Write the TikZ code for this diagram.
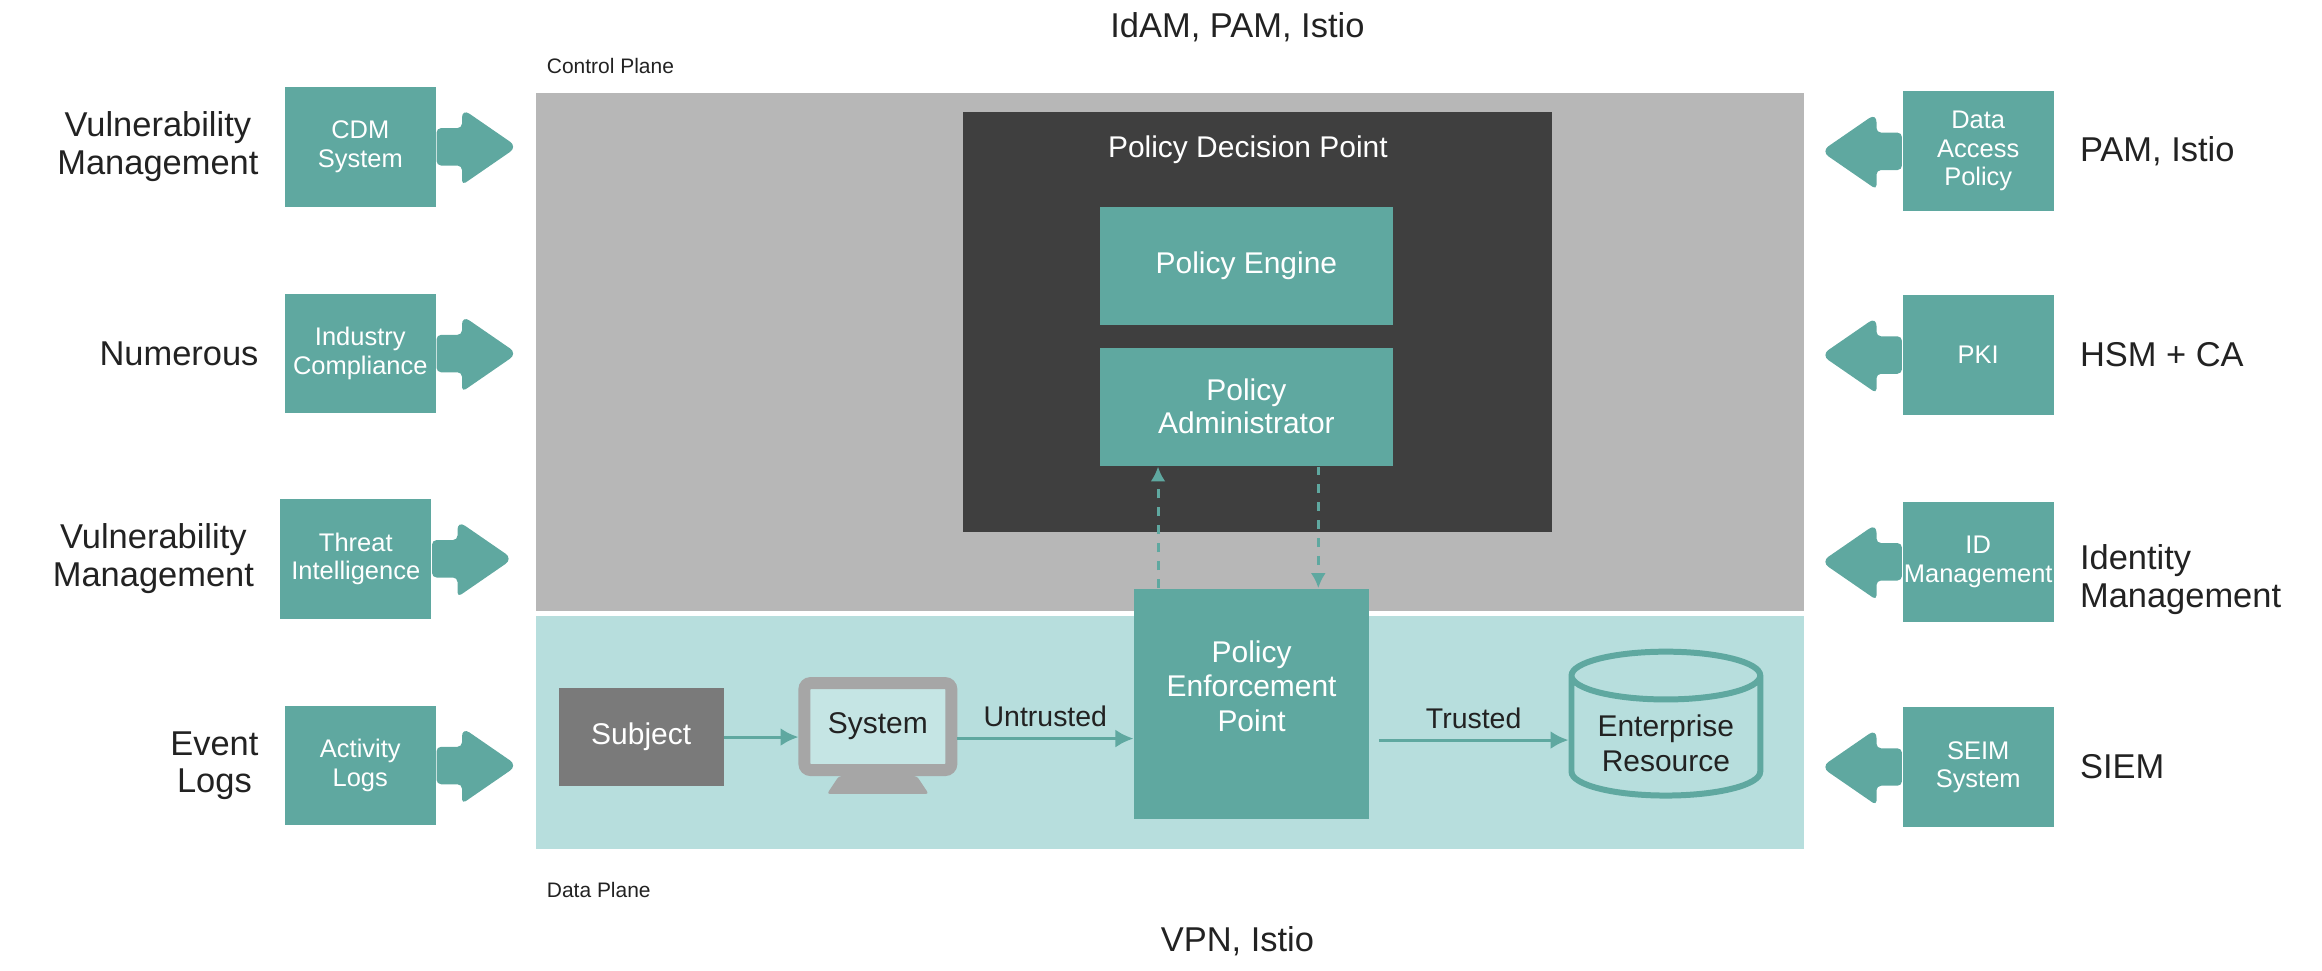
\documentclass[tikz,border=0pt]{standalone}
\usepackage{fontspec}
\setmainfont{Liberation Sans}
\usetikzlibrary{shapes.geometric,positioning}
\definecolor{zteal}{HTML}{5FA8A0}
\definecolor{zlight}{HTML}{B7DEDD}
\definecolor{zgray}{HTML}{B7B7B7}
\definecolor{zdark}{HTML}{3F3F3F}
\definecolor{ztext}{HTML}{222222}
\tikzset{
  tbox/.style={fill=zteal, text=white, align=center, inner sep=0pt, font=\fontsize{8.5}{9.5}\selectfont},
  side/.style={text=ztext, font=\fontsize{11.5}{12.5}\selectfont},
  flow/.style={zteal, line width=1pt, -{Latex[length=6pt,width=6pt]}},
}
\usetikzlibrary{arrows.meta}
% fat arrow from a side box: start point, direction (+1 right, -1 left)
\newcommand{\fatarrow}[2]{%
  \fill[zteal, rounded corners=1.5pt] (#1) ++(0,12.5) -- ++(#2*17,0) -- ++(0,13)
    [rounded corners=3pt] -- ++(#2*37,-25.5) -- ++(-#2*37,-25.5)
    [rounded corners=1.5pt] -- ++(0,13) -- ++(-#2*17,0) -- cycle;}
\begin{document}
\begin{tikzpicture}[x=0.5pt, y=-0.5pt]
\useasboundingbox (0,0) rectangle (1550,648);

% planes
\fill[zgray] (358,62) rectangle (1204,408);
\fill[zlight] (358,411) rectangle (1204,567);
\node[anchor=west, font=\fontsize{7}{8}\selectfont, text=ztext] (cp) at (358,44) {Control Plane};
\node[anchor=west, font=\fontsize{7}{8}\selectfont, text=ztext] (dp) at (358,594) {Data Plane};
\node[side] (top) at (826,18) {IdAM, PAM, Istio};
\node[side] (bot) at (826,628) {VPN, Istio};

% decision point
\fill[zdark] (643,75) rectangle (1036,355);
\node[text=white, font=\fontsize{10}{11}\selectfont] (pdp) at (833,100) {Policy Decision Point};
\node[tbox, minimum width=98pt, minimum height=39.5pt, font=\fontsize{10}{11}\selectfont] (pe) at (832,177.5) {Policy Engine};
\node[tbox, minimum width=98pt, minimum height=39.5pt, font=\fontsize{10}{11}\selectfont] (pa) at (832,271.5) {Policy\\Administrator};
\node[tbox, minimum width=78.5pt, minimum height=77pt, font=\fontsize{10}{11.5}\selectfont, text depth=12pt] (pep) at (835.5,470) {Policy\\Enforcement\\Point};

\draw[zteal, line width=1pt, dashed, -{Latex[length=5pt,width=5pt]}] (pep.north -| 773,0) -- (pa.south -| 773,0);
\draw[zteal, line width=1pt, dashed, -{Latex[length=5pt,width=5pt]}] (pa.south -| 880,0) -- (pep.north -| 880,0);

% data plane
\node[fill=gray!100!white, fill=black!52, text=white, minimum width=55pt, minimum height=33pt, inner sep=0pt, font=\fontsize{10}{11}\selectfont] (subj) at (428,492) {Subject};
\fill[black!35] (562,515) rectangle (610,520);
\fill[black!35, rounded corners=1pt] (552,530) -- (560,518) -- (612,518) -- (620,530) -- cycle;
\node[draw=black!35, line width=4pt, fill=zlight!80!white, rounded corners=2pt, minimum width=49pt, minimum height=29pt, inner sep=0pt, text=ztext, font=\fontsize{10}{11}\selectfont] (sys) at (586,485) {System};
\draw[flow] (subj.east) -- (sys.west |- subj.east);
\draw[flow] (sys.east |- 0,493) -- node[above, text=ztext, font=\fontsize{9.5}{10}\selectfont] {Untrusted} (pep.west |- 0,493);
\node[cylinder, shape border rotate=90, aspect=0.35, draw=zteal, line width=2pt, fill=zlight, minimum width=63pt, minimum height=48pt, inner sep=0pt, text=ztext, align=center, font=\fontsize{10}{11.5}\selectfont] (er) at (1112,492) {\\Enterprise\\Resource};
\draw[flow] (pep.east |- 0,494) ++(6,0) -- node[above, text=ztext, font=\fontsize{9.5}{10}\selectfont] {Trusted} (er.west |- 0,494);

% left inputs
\node[tbox, minimum width=50.5pt, minimum height=40pt] (cdm) at (240.5,98) {CDM\\System};
\node[tbox, minimum width=50.5pt, minimum height=40pt] (ind) at (240.5,236) {Industry\\Compliance};
\node[tbox, minimum width=50.5pt, minimum height=40pt] (thr) at (237.5,373) {Threat\\Intelligence};
\node[tbox, minimum width=50.5pt, minimum height=40pt] (act) at (240.5,511) {Activity\\Logs};
\fatarrow{cdm.east}{1}
\fatarrow{ind.east}{1}
\fatarrow{thr.east}{1}
\fatarrow{act.east}{1}
\node[side, align=center, left=5pt of cdm] (l1) {Vulnerability\\Management};
\node[side, left=5pt of ind] (l2) {Numerous};
\node[side, align=center, left=5pt of thr] (l3) {Vulnerability\\Management};
\node[side, align=center, left=5pt of act] (l4) {Event\\Logs};

% right inputs
\node[tbox, minimum width=50.5pt, minimum height=40pt] (dap) at (1320.5,101) {Data\\Access\\Policy};
\node[tbox, minimum width=50.5pt, minimum height=40pt] (pki) at (1320.5,237) {PKI};
\node[tbox, minimum width=50.5pt, minimum height=40pt] (idm) at (1320.5,375) {ID\\Management};
\node[tbox, minimum width=50.5pt, minimum height=40pt] (sei) at (1320.5,512) {SEIM\\System};
\fatarrow{dap.west}{-1}
\fatarrow{pki.west}{-1}
\fatarrow{idm.west}{-1}
\fatarrow{sei.west}{-1}
\node[side, right=5pt of dap] (r1) {PAM, Istio};
\node[side, right=5pt of pki] (r2) {HSM + CA};
\node[side, align=left, right=5pt of idm, yshift=-6pt] (r3) {Identity\\Management};
\node[side, right=5pt of sei] (r4) {SIEM};
\end{tikzpicture}
\end{document}
